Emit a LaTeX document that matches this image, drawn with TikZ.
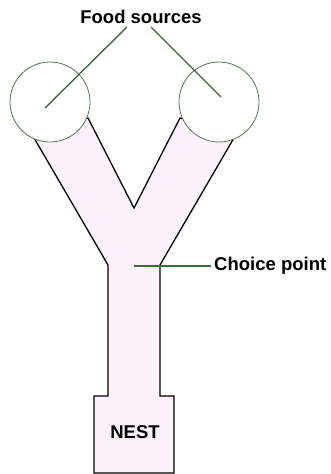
\documentclass[tikz,border=0pt]{standalone}
\usepackage{fontspec}
\setmainfont{Liberation Sans}
\definecolor{mazefill}{HTML}{FBF0FB}
\definecolor{leader}{HTML}{3E6B3E}
\definecolor{circ}{HTML}{4F7A4F}
\tikzset{
  lbl/.style={font=\fontsize{18.5}{20}\selectfont\bfseries, inner sep=0pt},
  leadline/.style={draw=leader, line width=1.4pt},
  maze/.style={draw=black, line width=1.3pt, fill=mazefill, line join=miter},
  food/.style={draw=circ, line width=0.8pt, fill=white, circle, minimum size=80pt, inner sep=0pt}
}
\begin{document}
\begin{tikzpicture}[x=1pt,y=-1pt]
\useasboundingbox (0,0) rectangle (330,474);
% maze outline
\path[maze] (30,131) -- (108,265) -- (108,396) -- (94,396) -- (94,473) -- (174,473) -- (174,396) -- (160,396) -- (160,265) -- (238,131)
  -- (180,118) -- (134,208) -- (88,118) -- cycle;
% food circles
\node[food] (fl) at (50,102) {};
\node[food] (fr) at (219,102) {};
% labels
\node[lbl] (fs) at (141,17) {Food sources};
\node[lbl, anchor=west] (cp) at (214,266) {Choice point};
\node[lbl] (nest) at (135,432) {NEST};
% leader lines
\coordinate (fsl) at (127,27);
\coordinate (fsr) at (151,27);
\coordinate (fltip) at (45,108);
\coordinate (frtip) at (221,97);
\coordinate (cptip) at (134,266);
\draw[leadline] (fsl) -- (fltip);
\draw[leadline] (fsr) -- (frtip);
\draw[leadline] (cp.west) ++(-3,0) coordinate (cpend) (cpend) -- (cptip);
\end{tikzpicture}
\end{document}
